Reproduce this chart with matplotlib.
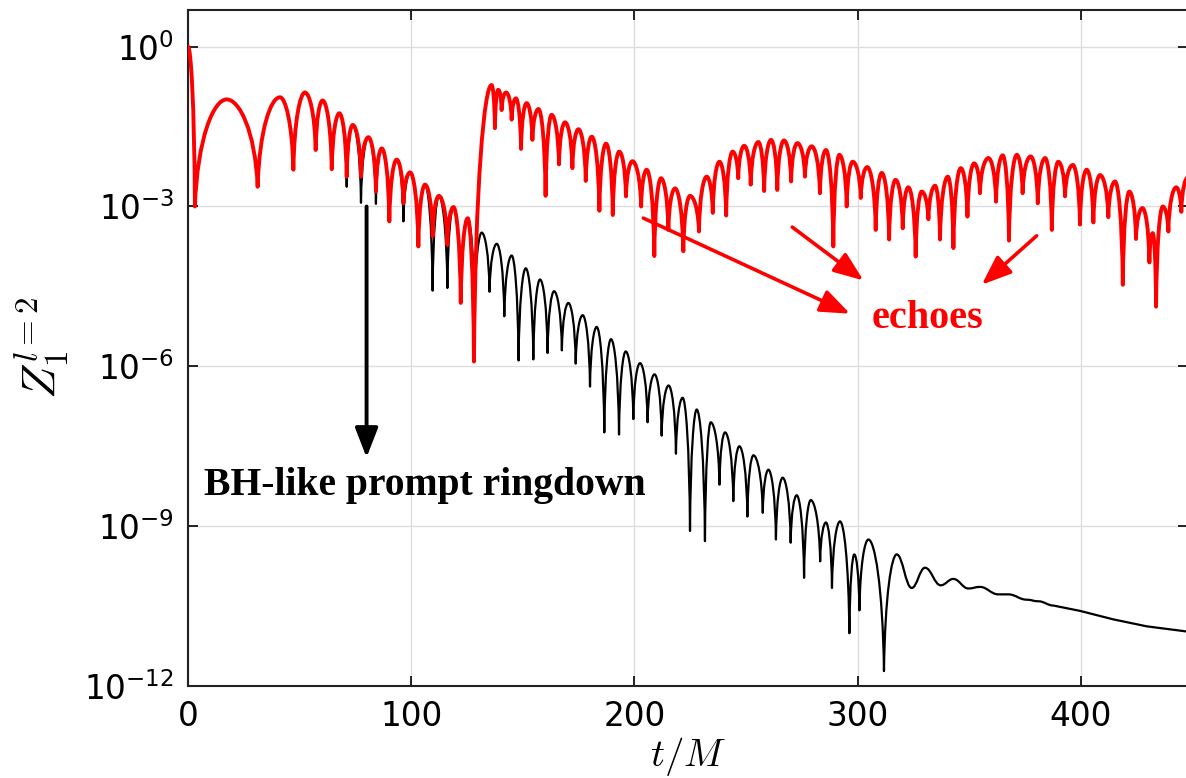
import numpy as np
import matplotlib
matplotlib.use("Agg")
import matplotlib.pyplot as plt
from matplotlib.path import Path
from matplotlib.patches import PathPatch
from matplotlib.ticker import FixedLocator, NullLocator

# turning points (peaks / dips): t/M and log10 |Z|
red_t = [0.0, 3.1, 17.3, 31.2, 41.2, 47.2, 52.4, 57.2, 60.3, 64.4, 67.8, 71.1,
         73.8, 77.5, 80.8, 84.2, 86.8, 90.2, 93.5, 96.5, 99.5, 103.2, 106.2,
         109.6, 112.4, 116.2, 118.9, 122.2, 125.3, 128.1, 136.0, 137.5, 139.0,
         140.5, 142.5, 145.0, 146.9, 149.2, 151.7, 154.3, 157.0, 160.2, 162.9,
         166.2, 168.9, 172.2, 174.9, 178.2, 180.9, 184.3, 187.3, 190.3, 193.2,
         196.2, 199.1, 203.0, 205.5, 208.9, 211.9, 215.2, 218.2, 221.9, 224.9,
         228.9, 232.4, 235.1, 238.1, 241.1, 244.0, 246.5, 249.2, 252.1, 255.5,
         258.1, 261.2, 264.0, 267.0, 270.2, 273.0, 276.4, 279.4, 283.1, 285.8,
         289.1, 291.8, 295.1, 297.8, 301.4, 304.3, 308.1, 310.8, 314.1, 317.0,
         320.2, 322.7, 326.0, 328.7, 331.7, 334.7, 336.9, 340.4, 342.9, 346.2,
         349.2, 352.2, 354.8, 358.6, 362.0, 365.0, 367.8, 371.3, 373.9, 377.5,
         380.7, 384.0, 387.0, 389.9, 392.9, 396.4, 399.6, 402.6, 405.6, 408.6,
         412.3, 415.3, 418.8, 421.7, 424.7, 427.6, 430.7, 432.2, 433.7, 436.7,
         439.2, 442.7, 445.0, 448.0]
red_log = [0.0, -3.0, -0.99, -2.63, -0.95, -2.31, -0.86, -1.94, -1.01, -2.30,
           -1.25, -2.44, -1.47, -2.44, -1.70, -2.72, -1.91, -3.28, -2.12, -2.94,
           -2.36, -3.75, -2.59, -3.56, -2.80, -3.72, -3.01, -4.81, -3.22, -5.91,
           -0.72, -1.53, -0.81, -1.19, -0.86, -1.37, -0.97, -1.92, -1.06, -1.75,
           -1.17, -2.80, -1.28, -2.21, -1.42, -2.28, -1.55, -2.52, -1.69, -3.08,
           -1.82, -3.16, -1.97, -2.81, -2.15, -3.00, -2.31, -3.93, -2.47, -3.44,
           -2.66, -3.84, -2.80, -3.47, -2.44, -3.12, -2.16, -3.17, -1.97, -2.47,
           -1.86, -2.59, -1.79, -2.71, -1.75, -2.69, -1.76, -2.53, -1.81, -2.44,
           -1.87, -2.75, -1.94, -3.75, -2.03, -3.00, -2.16, -2.84, -2.26, -3.44,
           -2.37, -3.62, -2.50, -3.41, -2.64, -3.94, -2.72, -3.24, -2.61, -3.62,
           -2.44, -3.78, -2.28, -3.19, -2.19, -2.75, -2.09, -2.91, -2.04, -3.64,
           -2.03, -2.75, -2.06, -2.94, -2.09, -3.44, -2.16, -2.81, -2.22, -3.34,
           -2.31, -3.30, -2.41, -3.20, -2.53, -4.47, -2.72, -3.61, -3.03, -4.05,
           -3.50, -4.88, -3.00, -3.47, -2.64, -3.10, -2.45]

black_t = [0.0, 3.1, 17.3, 31.2, 41.2, 47.2, 52.4, 57.2, 60.3, 64.4, 67.8, 71.1,
           73.8, 77.5, 80.8, 84.2, 86.8, 90.2, 93.5, 96.5, 99.5, 103.2, 106.2,
           109.6, 112.4, 116.2, 118.9, 122.2, 125.3, 128.3, 131.6, 135.1, 138.3,
           141.7, 145.0, 148.1, 151.3, 154.7, 157.7, 161.1, 164.0, 167.5, 170.4,
           173.7, 176.8, 180.1, 183.1, 186.5, 189.5, 193.1, 196.1, 199.5, 202.5,
           205.9, 209.0, 212.2, 215.3, 218.6, 221.6, 224.9, 227.9, 231.6, 234.2,
           238.1, 240.6, 244.3, 247.0, 250.6, 253.3, 257.5, 260.0, 263.4, 266.4,
           270.0, 272.7, 276.0, 279.0, 283.2, 285.8, 288.5, 292.1, 296.3, 298.5,
           300.8, 304.8, 311.8, 317.5, 324.2, 330.2, 337.2, 342.9, 349.6, 354.8,
           363.0, 367.5, 375.7, 381.0, 387.7, 399.6, 414.6, 429.5, 448.0]
black_log = [0.0, -3.0, -0.99, -2.63, -0.95, -2.31, -0.86, -1.94, -1.01, -2.30,
             -1.25, -2.63, -1.47, -2.93, -1.70, -2.95, -1.91, -3.28, -2.12, -3.28,
             -2.36, -3.75, -2.59, -4.58, -2.80, -4.53, -3.01, -4.81, -3.22, -5.0,
             -3.49, -4.60, -3.70, -5.06, -3.92, -5.89, -4.16, -5.87, -4.37, -5.75,
             -4.59, -5.70, -4.81, -5.95, -5.04, -6.38, -5.26, -7.24, -5.49, -7.28,
             -5.72, -6.99, -5.94, -7.05, -6.15, -7.30, -6.36, -7.64, -6.59, -9.09,
             -6.81, -9.28, -7.05, -8.22, -7.24, -8.53, -7.50, -8.82, -7.67, -8.75,
             -7.94, -9.25, -8.09, -9.31, -8.42, -9.97, -8.51, -9.66, -8.93, -10.16,
             -8.91, -11.01, -9.53, -10.58, -9.25, -11.72, -9.53, -10.16, -9.78,
             -10.11, -9.99, -10.17, -10.14, -10.28, -10.28, -10.38, -10.41, -10.49,
             -10.59, -10.75, -10.88, -10.98]

ytick_exp = [0, -3, -6, -9, -12]
xticks = [0, 100, 200, 300, 400]


def lobe_path(t, lg, smooth_from=None, line_from=None):
    # cusp-like dips, rounded tops (as |Z| looks on a log axis)
    verts = [(t[0], lg[0])]
    codes = [Path.MOVETO]
    for i in range(len(t) - 1):
        t0, y0, t1, y1 = t[i], lg[i], t[i + 1], lg[i + 1]
        dt = t1 - t0
        if line_from is not None and t0 >= line_from:
            verts.append((t1, y1)); codes.append(Path.LINETO)
            continue
        if smooth_from is not None and t0 >= smooth_from:
            c1 = (t0 + 0.4 * dt, y0); c2 = (t1 - 0.4 * dt, y1)
        elif y1 > y0:
            c1 = (t0 + 0.08 * dt, y0 + 0.65 * (y1 - y0)); c2 = (t1 - 0.4 * dt, y1)
        else:
            c1 = (t0 + 0.4 * dt, y0); c2 = (t1 - 0.08 * dt, y1 + 0.65 * (y0 - y1))
        verts += [c1, c2, (t1, y1)]
        codes += [Path.CURVE4] * 3
    v = np.array(verts)
    v[:, 1] = 10.0 ** v[:, 1]
    return Path(v, codes)


fig = plt.figure(figsize=(11.86, 7.78), dpi=100)
ax = fig.add_axes([188 / 1186, 92 / 778, 1000 / 1186, 676 / 778])
ax.set_yscale("log")
ax.set_xlim(0, 448)
ax.set_ylim(1e-12, 10 ** 0.688)

ax.add_patch(PathPatch(lobe_path(black_t, black_log, smooth_from=317.0, line_from=387.0),
                       fill=False, edgecolor="black", lw=1.6, zorder=2,
                       joinstyle="round", capstyle="round"))
ax.add_patch(PathPatch(lobe_path(red_t, red_log),
                       fill=False, edgecolor="#ff0000", lw=2.8, zorder=3,
                       joinstyle="round", capstyle="round"))

ax.xaxis.set_major_locator(FixedLocator(xticks))
ax.yaxis.set_major_locator(FixedLocator([10.0 ** e for e in ytick_exp]))
ax.yaxis.set_minor_locator(NullLocator())
ax.set_yticklabels([r"$\mathregular{10^{%d}}$" % e for e in ytick_exp])
ax.tick_params(direction="in", length=7, width=1.2, top=True, right=True,
               labelsize=23.5, pad=10)
ax.grid(True, color="#dddddd", lw=1.0, zorder=0)
for s in ax.spines.values():
    s.set_linewidth(1.5)
    s.set_color("#222222")

ax.set_xlabel(r"$t/M$", fontsize=28, math_fontfamily="cm", va="center")
ax.xaxis.set_label_coords(0.5, -0.105)
ax.set_ylabel(r"$Z_1^{l=2}$", fontsize=34, math_fontfamily="cm", va="center")
ax.yaxis.set_label_coords(-0.146, 0.5)

# annotations
ax.annotate("", xy=(80, 10 ** -7.71), xytext=(80, 1e-3),
            arrowprops=dict(arrowstyle="-|>,head_length=0.9,head_width=0.35",
                            mutation_scale=20, lw=2.8, color="black",
                            shrinkA=0, shrinkB=0), zorder=4)
ax.text(106.2, 10 ** -8.41, "BH-like prompt ringdown", ha="center", va="baseline",
        fontsize=28.5, fontweight="bold", family="Liberation Serif", color="black")

red_arrows = [((204.0, -3.218), (296.6, -5.012)),
              ((270.7, -3.387), (302.6, -4.388)),
              ((380.2, -3.55), (355.6, -4.468))]
for (t0, l0), (t1, l1) in red_arrows:
    ax.annotate("", xy=(t1, 10 ** l1), xytext=(t0, 10 ** l0),
                arrowprops=dict(arrowstyle="-|>,head_length=0.9,head_width=0.35",
                                mutation_scale=20, lw=2.6, color="#ff0000",
                                shrinkA=0, shrinkB=0), zorder=4)
ax.text(331.3, 10 ** -5.275, "echoes", ha="center", va="baseline",
        fontsize=29, fontweight="bold", family="Liberation Serif", color="#ff0000")

fig.savefig("out.png", dpi=100)
